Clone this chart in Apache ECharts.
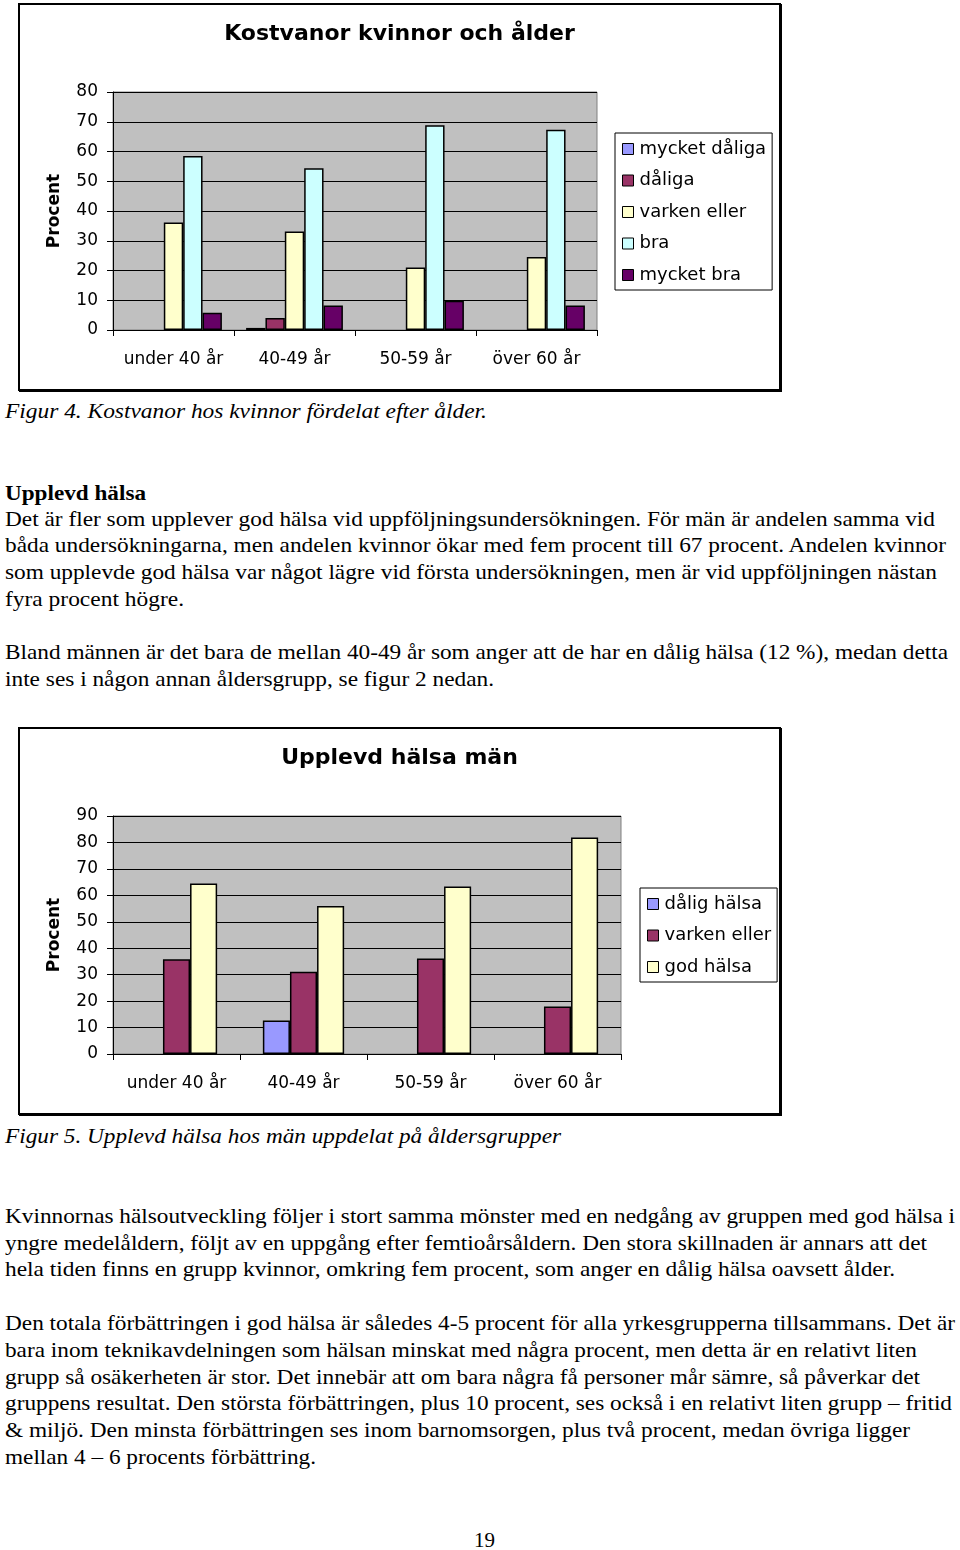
<!DOCTYPE html>
<html>
<head>
<meta charset="utf-8">
<script src="https://cdn.jsdelivr.net/npm/echarts@6/dist/echarts.min.js"></script>
<style>
  html, body { margin: 0; padding: 0; background: #fff; }
  body { width: 960px; height: 1550px; position: relative; overflow: hidden; }
  .box { position: absolute; box-sizing: border-box; border: 2px solid #000; box-shadow: 1px 1px 0 #000; background: #fff; }
  .chart { position: absolute; left: 0; top: 0; width: 100%; height: 100%; }
  .ln { position: absolute; left: 5px; white-space: nowrap; font-family: 'Liberation Serif', 'Times New Roman', serif; font-size: 21px; line-height: 26px; color: #000; transform-origin: 0 50%; }
  .it { font-style: italic; }
  .bd { font-weight: bold; }
</style>
</head>
<body>
<div class="box" style="left:18px;top:3px;width:763px;height:388px;"><div id="c1" class="chart"></div></div>
<div class="box" style="left:18px;top:727px;width:763px;height:388px;"><div id="c2" class="chart"></div></div>
<div id="text"></div>
<script>
// ---------- data ----------
const categories = ['under 40 år', '40-49 år', '50-59 år', 'över 60 år'];

// Figur 4: Kostvanor kvinnor och ålder
const kostNames = ['mycket dåliga', 'dåliga', 'varken eller', 'bra', 'mycket bra'];
const kostMycketDaliga = [null, 0.7, null, null];
const kostDaliga = [null, 4.0, null, null];
const kostVarken = [36.1, 33.1, 21.0, 24.5];
const kostBra = [58.5, 54.4, 68.8, 67.3];
const kostMycketBra = [5.8, 8.2, 9.8, 8.2];
const kostTicks = [0, 80, 10];

// Figur 5: Upplevd hälsa män
const halsaNames = ['dålig hälsa', 'varken eller', 'god hälsa'];
const halsaDalig = [null, 12.7, null, null];
const halsaVarken = [35.8, 31.1, 36.1, 18.0];
const halsaGod = [64.5, 56.0, 63.3, 81.9];
const halsaTicks = [0, 90, 10];

// ---------- text ----------
const textLines = [
  ['Figur 4. Kostvanor hos kvinnor fördelat efter ålder.', 411, 482, 'it'],
  ['Upplevd hälsa', 493, 141, 'bd'],
  ['Det är fler som upplever god hälsa vid uppföljningsundersökningen. För män är andelen samma vid', 519, 930, ''],
  ['båda undersökningarna, men andelen kvinnor ökar med fem procent till 67 procent. Andelen kvinnor', 545, 941, ''],
  ['som upplevde god hälsa var något lägre vid första undersökningen, men är vid uppföljningen nästan', 572, 932, ''],
  ['fyra procent högre.', 599, 179, ''],
  ['Bland männen är det bara de mellan 40-49 år som anger att de har en dålig hälsa (12 %), medan detta', 652, 943, ''],
  ['inte ses i någon annan åldersgrupp, se figur 2 nedan.', 679, 489, ''],
  ['Figur 5. Upplevd hälsa hos män uppdelat på åldersgrupper', 1136, 556, 'it'],
  ['Kvinnornas hälsoutveckling följer i stort samma mönster med en nedgång av gruppen med god hälsa i', 1216, 950, ''],
  ['yngre medelåldern, följt av en uppgång efter femtioårsåldern. Den stora skillnaden är annars att det', 1243, 922, ''],
  ['hela tiden finns en grupp kvinnor, omkring fem procent, som anger en dålig hälsa oavsett ålder.', 1269, 890, ''],
  ['Den totala förbättringen i god hälsa är således 4-5 procent för alla yrkesgrupperna tillsammans. Det är', 1323, 950, ''],
  ['bara inom teknikavdelningen som hälsan minskat med några procent, men detta är en relativt liten', 1350, 912, ''],
  ['grupp så osäkerheten är stor. Det innebär att om bara några få personer mår sämre, så påverkar det', 1377, 915, ''],
  ['gruppens resultat. Den största förbättringen, plus 10 procent, ses också i en relativt liten grupp – fritid', 1403, 947, ''],
  ['& miljö. Den minsta förbättringen ses inom barnomsorgen, plus två procent, medan övriga ligger', 1430, 905, ''],
  ['mellan 4 – 6 procents förbättring.', 1457, 311, '']
];

const textHost = document.getElementById('text');
textLines.forEach(([t, y, w, cls]) => {
  const d = document.createElement('div');
  d.className = 'ln ' + cls;
  d.textContent = t;
  d.style.top = (y - 13) + 'px';
  d.dataset.w = w;
  textHost.appendChild(d);
});
const pg = document.createElement('div');
pg.className = 'ln';
pg.textContent = '19';
pg.style.left = '474px';
pg.style.top = (1540 - 13) + 'px';
textHost.appendChild(pg);

function fitLines() {
  document.querySelectorAll('.ln[data-w]').forEach(d => {
    d.style.transform = 'none';
    const actual = d.getBoundingClientRect().width;
    const target = +d.dataset.w;
    if (actual > 0) d.style.transform = 'scaleX(' + (target / actual).toFixed(4) + ')';
  });
}
fitLines();

// ---------- charts ----------
const FONT = "'DejaVu Sans', sans-serif";
const COLORS = { mdal: '#9999FF', dal: '#993366', varken: '#FFFFCC', bra: '#CCFFFF', mbra: '#660066' };

function makeOption(title, names, datas, colors, ticks, catGap, legendTop) {
  return {
    animation: false,
    textStyle: { fontFamily: FONT },
    title: {
      text: title, left: 'center', top: 13,
      textStyle: { fontFamily: FONT, fontSize: 22, fontWeight: 'bold', color: '#000' }
    },
    legend: {
      orient: 'vertical', left: 595, top: legendTop,
      data: names,
      itemWidth: 11, itemHeight: 11, itemGap: 11.5,
      icon: 'rect',
      padding: [6, 6, 5, 7],
      borderColor: '#000', borderWidth: 1,
      itemStyle: { borderColor: '#000', borderWidth: 1 },
      textStyle: { fontFamily: FONT, fontSize: 18, color: '#000', lineHeight: 20, padding: [0, 0, 0, 1] }
    },
    grid: {
      left: 93, top: 87, width: ticks.w, height: 238,
      show: true, backgroundColor: '#C0C0C0', borderColor: '#808080', borderWidth: 1
    },
    xAxis: {
      type: 'category', data: categories,
      axisLine: { lineStyle: { color: '#000', width: 1 } },
      axisTick: { show: true, alignWithLabel: false, length: 6, lineStyle: { color: '#000' } },
      axisLabel: { fontFamily: FONT, fontSize: 17, color: '#000', margin: 21, interval: 0, hideOverlap: false }
    },
    yAxis: {
      type: 'value', min: ticks.min, max: ticks.max, interval: ticks.step,
      name: 'Procent', nameLocation: 'middle', nameRotate: 90, nameGap: 50,
      nameTextStyle: { fontFamily: FONT, fontSize: 17, fontWeight: 'bold', color: '#000' },
      axisLine: { show: true, lineStyle: { color: '#000', width: 1 } },
      axisTick: { show: true, length: 6, lineStyle: { color: '#000' } },
      axisLabel: { fontFamily: FONT, fontSize: 17, color: '#000', margin: 15 },
      splitLine: { show: true, lineStyle: { color: '#000', width: 1 } }
    },
    series: names.map((n, i) => ({
      name: n, type: 'bar', data: datas[i],
      barGap: '0%', barCategoryGap: catGap,
      itemStyle: { color: colors[i], borderColor: '#000', borderWidth: 1.5 }
    }))
  };
}

const c1 = echarts.init(document.getElementById('c1'), null, { renderer: 'canvas' });
c1.setOption(makeOption(
  'Kostvanor kvinnor och ålder',
  kostNames,
  [kostMycketDaliga, kostDaliga, kostVarken, kostBra, kostMycketBra],
  [COLORS.mdal, COLORS.dal, COLORS.varken, COLORS.bra, COLORS.mbra],
  { min: kostTicks[0], max: kostTicks[1], step: kostTicks[2], w: 484 },
  '20%', 128
));

const c2 = echarts.init(document.getElementById('c2'), null, { renderer: 'canvas' });
c2.setOption(makeOption(
  'Upplevd hälsa män',
  halsaNames,
  [halsaDalig, halsaVarken, halsaGod],
  [COLORS.mdal, COLORS.dal, COLORS.varken],
  { min: halsaTicks[0], max: halsaTicks[1], step: halsaTicks[2], w: 508 },
  '36%', 159
));
c2.setOption({ legend: { left: 620 } });
</script>
</body>
</html>
